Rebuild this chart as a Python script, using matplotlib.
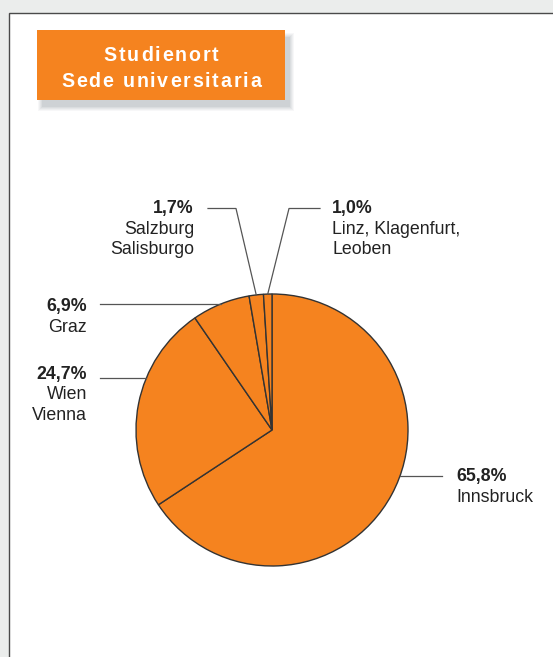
import numpy as np
import matplotlib
matplotlib.use("Agg")
from matplotlib import pyplot as plt
from matplotlib.patches import Rectangle
from matplotlib.font_manager import FontProperties

plt.rcParams['font.family'] = ['Liberation Sans', 'DejaVu Sans']

# data
cities = ['Innsbruck', 'Wien', 'Graz', 'Salzburg', 'Linz']
shares = [65.8, 24.7, 6.9, 1.7, 1.0]
pct_labels = ['65,8%', '24,7%', '6,9%', '1,7%', '1,0%']
names = [['Innsbruck'], ['Wien', 'Vienna'], ['Graz'], ['Salzburg', 'Salisburgo'],
         ['Linz, Klagenfurt,', 'Leoben']]
title_lines = ['Studienort', 'Sede universitaria']

W, H = 553, 657
orange = '#F5831F'
edge = '#333333'
linec = '#555555'
txtc = '#222222'

fig = plt.figure(figsize=(W / 100, H / 100), dpi=100, facecolor='#EBEDEC')
ax = fig.add_axes([0, 0, 1, 1])

def Y(y):
    return H - y

# pie
cx, cy, r = 272, Y(430), 136
wedges, _ = ax.pie(shares, startangle=90, counterclock=False, center=(cx, cy),
                   radius=r, colors=[orange] * len(shares),
                   wedgeprops=dict(edgecolor=edge, linewidth=1.0), frame=True)
ax.set_xlim(0, W)
ax.set_ylim(0, H)
ax.set_aspect('auto')
ax.axis('off')

# white panel with border (top and left edges visible)
ax.add_patch(Rectangle((8.5, -5), W + 10, Y(12.5) + 5, facecolor='white',
                       edgecolor='#4a4a4a', linewidth=1.0, zorder=-2))

# title box with soft shadow
bx, by, bw, bh = 37, Y(100), 248, 70
for i, a in enumerate([0.05, 0.06, 0.07, 0.08, 0.10]):
    d = 4 - i
    ax.add_patch(Rectangle((bx + 5 - d, by - 7 - d), bw + 2 * d, bh + 2 * d,
                           facecolor='#6a7480', edgecolor='none', alpha=a, zorder=1))
ax.add_patch(Rectangle((bx, by), bw, bh, facecolor=orange,
                       edgecolor='none', zorder=2))

# letter-spaced title
renderer = fig.canvas.get_renderer()
tprop = FontProperties(family=['Liberation Sans', 'DejaVu Sans'], weight='bold', size=14.1)
spacing = 1.8
for line, base in zip(title_lines, [61, 87]):
    def w(s):
        return renderer.get_text_width_height_descent(s, tprop, ismath=False)[0] if s else 0
    total = w(line) + spacing * (len(line) - 1)
    x0 = bx + bw / 2 - total / 2
    for i, ch in enumerate(line):
        ax.text(x0 + w(line[:i]) + spacing * i, Y(base), ch, fontproperties=tprop,
                color='white', ha='left', va='baseline', zorder=3)

fs = 12.8
lw = 0.9

def edge_x(y, side):
    dy = y - cy
    return cx + side * np.sqrt(r ** 2 - dy ** 2)

def label(i, x, bases, ha):
    ax.text(x, Y(bases[0]), pct_labels[i], fontsize=fs, fontweight='bold',
            va='baseline', ha=ha, color=txtc)
    for s, b in zip(names[i], bases[1:]):
        ax.text(x, Y(b), s, fontsize=fs, va='baseline', ha=ha, color=txtc)

# Innsbruck
y0 = Y(476)
ax.plot([edge_x(y0, 1), 442], [y0, y0], color=linec, lw=lw)
label(0, 456, [481, 501.5], 'left')

# Wien
y0 = Y(378)
ax.plot([100, edge_x(y0, -1)], [y0, y0], color=linec, lw=lw)
label(1, 87, [379, 399, 420], 'right')

# Graz
y0 = Y(304)
ax.plot([100, edge_x(y0, -1)], [y0, y0], color=linec, lw=lw)
label(2, 87, [310.5, 331.5], 'right')

# small wedges: leader to wedge middle
def mid_point(w):
    ang = np.deg2rad((w.theta1 + w.theta2) / 2)
    return cx + r * np.cos(ang), cy + r * np.sin(ang)

mx, my = mid_point(wedges[3])
ax.plot([208, 236, mx], [Y(208.5), Y(208.5), my], color=linec, lw=lw)
label(3, 194, [213.5, 234, 254.5], 'right')

mx, my = mid_point(wedges[4])
ax.plot([320, 289, mx], [Y(208.5), Y(208.5), my], color=linec, lw=lw)
label(4, 332, [213.5, 234, 254.5], 'left')

fig.savefig('out.png', dpi=100, facecolor=fig.get_facecolor())
